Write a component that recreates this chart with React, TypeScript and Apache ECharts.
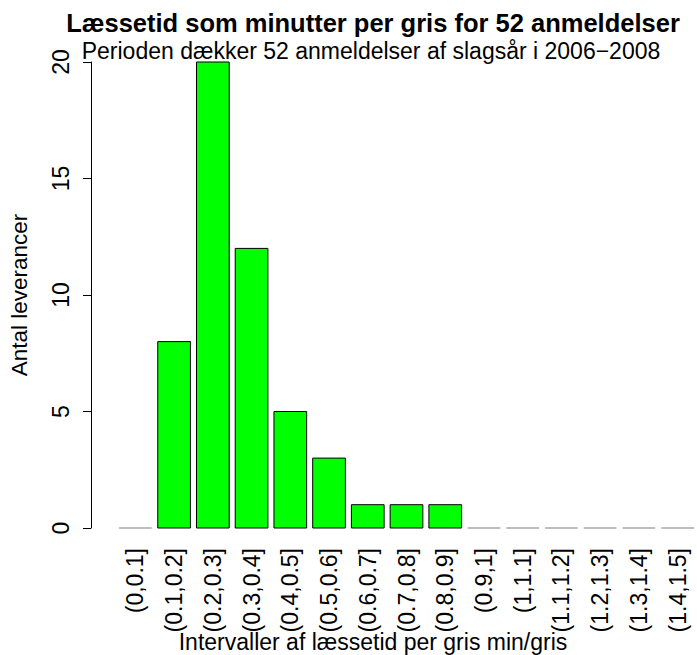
import React, { useEffect, useRef } from "react";
import * as echarts from "echarts";

const categories = [
  "(0,0.1]", "(0.1,0.2]", "(0.2,0.3]", "(0.3,0.4]", "(0.4,0.5]",
  "(0.5,0.6]", "(0.6,0.7]", "(0.7,0.8]", "(0.8,0.9]", "(0.9,1]",
  "(1,1.1]", "(1.1,1.2]", "(1.2,1.3]", "(1.3,1.4]", "(1.4,1.5]",
];
const counts = [0, 8, 20, 12, 5, 3, 1, 1, 1, 0, 0, 0, 0, 0, 0];
const yTicks = [0, 5, 10, 15, 20];

const titleText = "Læssetid som minutter per gris for 52 anmeldelser";
const subtitleText = "Perioden dækker 52 anmeldelser af slagsår i 2006−2008";
const xName = "Intervaller af læssetid per gris min/gris";
const yName = "Antal leverancer";

const FONT = "'Liberation Sans', Arial, Helvetica, sans-serif";

export default function App() {
  const ref = useRef<HTMLDivElement>(null);
  useEffect(() => {
    if (!ref.current) return;
    const chart = echarts.init(ref.current, undefined, { renderer: "svg" });
    const option: any = {
      animation: false,
      backgroundColor: "#ffffff",
      textStyle: { fontFamily: FONT },
      title: [
        {
          text: titleText,
          left: 373,
          top: 10,
          padding: 0,
          textAlign: "center",
          textStyle: { fontFamily: FONT, fontSize: 25.5, fontWeight: "bold", color: "#000" },
        },
        {
          text: subtitleText,
          left: 371,
          top: 39,
          padding: 0,
          textAlign: "center",
          textStyle: { fontFamily: FONT, fontSize: 23, fontWeight: "normal", color: "#000" },
        },
        {
          text: xName,
          left: 373,
          top: 630,
          padding: 0,
          textAlign: "center",
          textStyle: { fontFamily: FONT, fontSize: 23, fontWeight: "normal", color: "#000" },
        },
      ],
      grid: { left: 115, right: -4.5, top: 62, bottom: 127, containLabel: false },
      xAxis: {
        type: "category",
        data: categories,
        axisLine: { show: false },
        axisTick: { show: false },
        splitLine: { show: false },
        axisLabel: {
          rotate: 90,
          interval: 0,
          margin: 20,
          fontSize: 23,
          fontFamily: FONT,
          color: "#000",
        },
      },
      yAxis: {
        type: "value",
        min: yTicks[0],
        max: yTicks[yTicks.length - 1],
        interval: 5,
        offset: 25,
        name: yName,
        nameLocation: "middle",
        nameRotate: 90,
        nameGap: 60,
        nameTextStyle: { fontFamily: FONT, fontSize: 22.5, color: "#000" },
        axisLine: { show: true, lineStyle: { color: "#000", width: 1 } },
        axisTick: { show: true, length: 8, lineStyle: { color: "#000", width: 1 } },
        splitLine: { show: false },
        axisLabel: {
          rotate: 90,
          margin: 18.5,
          fontSize: 23,
          fontFamily: FONT,
          color: "#000",
        },
      },
      series: [
        {
          type: "custom",
          clip: false,
          data: counts.map((v, i) => [i, v]),
          encode: { x: 0, y: 1 },
          renderItem: (params: any, api: any) => {
            const i = api.value(0);
            const v = api.value(1);
            const base = api.coord([i, 0]);
            const top = api.coord([i, v]);
            const band = api.size([1, 0])[0];
            const w = band * 0.844;
            const x = base[0] - w / 2;
            if (v === 0) {
              return {
                type: "line",
                shape: { x1: x, y1: base[1], x2: x + w, y2: base[1] },
                style: { stroke: "#7f7f7f", lineWidth: 1.2 },
              };
            }
            return {
              type: "rect",
              shape: { x, y: top[1], width: w, height: base[1] - top[1] },
              style: { fill: "#00ff00", stroke: "#000", lineWidth: 1 },
            };
          },
        },
      ],
    };
    chart.setOption(option);
    return () => chart.dispose();
  }, []);
  return (
    <div
      ref={ref}
      style={{ position: "fixed", left: 0, top: 0, width: 697, height: 655, background: "#fff" }}
    />
  );
}
